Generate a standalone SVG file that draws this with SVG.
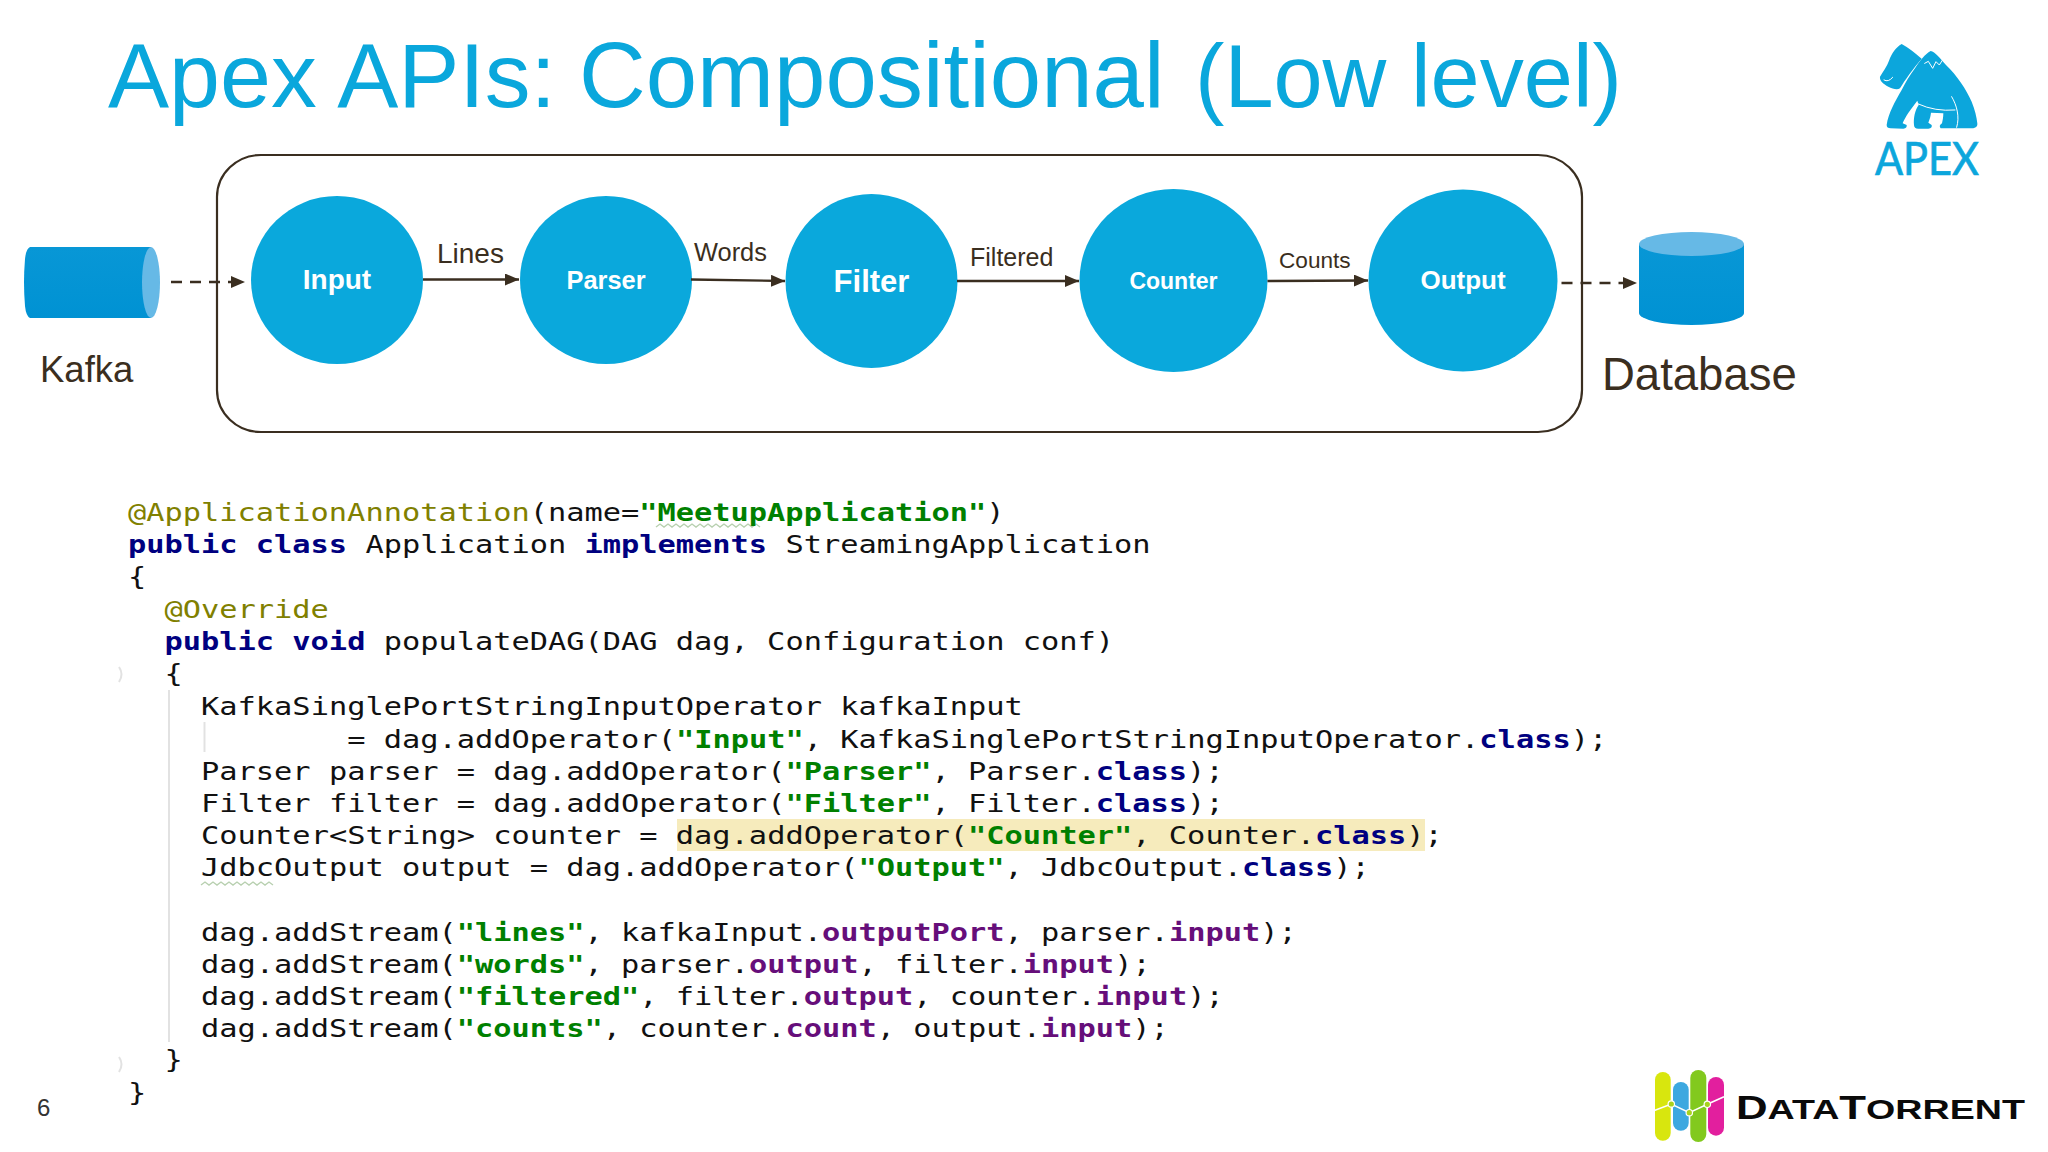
<svg xmlns="http://www.w3.org/2000/svg" width="2048" height="1152" viewBox="0 0 2048 1152">
<style>
.sans{font-family:"Liberation Sans",Arial,sans-serif}
.title{fill:#0aa7dc}
.node{fill:#0aa8dc}
.nl{font-family:"Liberation Sans",Arial,sans-serif;font-weight:700;fill:#fff;text-anchor:middle}
.el{font-family:"Liberation Sans",Arial,sans-serif;fill:#3a2e20}
.edge{stroke:#3a2e20;stroke-width:2.4;fill:none;marker-end:url(#ah)}
.dash{stroke-dasharray:11 8}
.code text{font-family:"DejaVu Sans Mono",monospace;font-size:24px;fill:#111;white-space:pre}
.k{font-weight:700;fill:#000080}
.s{font-weight:700;fill:#008000}
.a{fill:#808000}
.f{font-weight:700;fill:#660e7a}
.guide{stroke:#e2e2e2;stroke-width:2;fill:none}
.squig{stroke:#b8d0b0;stroke-width:1.4;fill:none}
.wh{stroke:#fff;fill:none;stroke-linecap:round;stroke-linejoin:round}
</style>
<defs>
<marker id="ah" markerUnits="userSpaceOnUse" markerWidth="14" markerHeight="12" refX="14" refY="6" orient="auto"><path d="M0 0L14 6L0 12Z" fill="#3a2e20"/></marker>
<linearGradient id="cyl" x1="0" y1="0" x2="0" y2="1"><stop offset="0" stop-color="#0897d6"/><stop offset="1" stop-color="#0092d3"/></linearGradient>
</defs>
<rect width="2048" height="1152" fill="#fff"/>
<text class="sans title" y="107" font-size="91.6"><tspan x="108">Apex APIs:</tspan> <tspan x="579" font-size="92.4">Compositional</tspan> <tspan x="1195" font-size="88.3">(Low level)</tspan></text>

<g id="apex-logo">
<g transform="translate(1860 30) scale(.3333)" fill="#0ca6dc">
<path d="M125 42C108 52 95 70 87 92C82 108 68 125 60 140C58 152 70 162 85 170C98 177 112 180 120 175C135 150 160 115 185 86C165 70 145 52 125 42Z"/>
<path d="M212 63C195 72 180 92 165 115C150 135 135 160 125 180C105 215 85 250 80 285Q80 295 92 295L130 296Q142 294 140 285L128 280C135 262 150 240 172 212L176 225C165 240 160 265 162 285Q162 296 175 296L205 296Q218 294 215 285L205 278C210 265 212 258 213 248L250 250C250 262 248 272 246 280Q235 288 242 295L340 295Q354 292 352 280C350 260 345 240 335 215C320 180 290 135 258 105C240 85 225 65 212 63Z"/>
<path class="wh" stroke-width="3" d="M72 150Q85 158 98 142"/>
<path class="wh" stroke-width="3" d="M194 100L205 94L218 115L228 95L238 105L249 88"/>
<path class="wh" stroke-width="3" d="M175 222Q225 245 285 240"/>
<path class="wh" stroke-width="3" d="M275 200C290 225 300 260 290 292"/>
</g>
<text x="1875" y="175" font-family="Lato,sans-serif" font-size="46" fill="#0ca6dc" stroke="#0ca6dc" stroke-width=".7" textLength="104" lengthAdjust="spacingAndGlyphs">APEX</text>
</g>

<rect id="container" x="217" y="155" width="1365" height="277" rx="44" ry="42" fill="none" stroke="#3a2e20" stroke-width="2.2"/>

<g id="kafka">
<path d="M30 247H151V318H30Q26 316 25 306Q23 282 25 259Q26 249 30 247Z" fill="url(#cyl)"/>
<ellipse cx="151" cy="282.5" rx="9" ry="35.5" fill="#66b9e6"/>
<text class="el" x="40" y="382" font-size="36.5">Kafka</text>
</g>

<g id="database">
<path d="M1639 244V313A52.5 12 0 0 0 1744 313V244Z" fill="url(#cyl)"/>
<ellipse cx="1691.5" cy="244" rx="52.5" ry="12" fill="#66b9e6"/>
<text class="el" x="1602" y="389.5" font-size="45.5">Database</text>
</g>

<g id="n-input"><ellipse class="node" cx="337" cy="280" rx="86" ry="84"/><text class="nl" x="337" y="289" font-size="28">Input</text></g>
<g id="n-parser"><ellipse class="node" cx="606" cy="280" rx="86" ry="84"/><text class="nl" x="606" y="289" font-size="25.4">Parser</text></g>
<g id="n-filter"><ellipse class="node" cx="871.5" cy="281" rx="86" ry="87"/><text class="nl" x="871.5" y="292" font-size="31">Filter</text></g>
<g id="n-counter"><ellipse class="node" cx="1173.5" cy="280.5" rx="94" ry="91.5"/><text class="nl" x="1173.5" y="288.5" font-size="23">Counter</text></g>
<g id="n-output"><ellipse class="node" cx="1463" cy="280.5" rx="94.5" ry="91"/><text class="nl" x="1463" y="288.5" font-size="26">Output</text></g>

<g id="connectors">
<path class="edge dash" d="M171 282H245"/>
<path class="edge" d="M423 279.5H519"/>
<path class="edge" d="M691 279.5L785 281"/>
<path class="edge" d="M957 281H1079"/>
<path class="edge" d="M1267.5 281L1368 280.5"/>
<path class="edge dash" d="M1561.5 283H1637"/>
<text class="el" x="437" y="263" font-size="28">Lines</text>
<text class="el" x="694" y="261" font-size="25.4">Words</text>
<text class="el" x="970" y="266" font-size="25">Filtered</text>
<text class="el" x="1279" y="268" font-size="22.6">Counts</text>
</g>

<g id="code">
<rect x="677" y="819" width="748" height="32" fill="#f6ebbc"/>
<path class="guide" d="M169 690V1042"/>
<path class="guide" d="M204.5 722V752"/>
<path class="guide" d="M119 667Q124 674 119 682M119 1057Q124 1064 119 1072"/>
<path class="squig" d="M656 527l4-3l4 3l4-3l4 3l4-3l4 3l4-3l4 3l4-3l4 3l4-3l4 3l4-3l4 3l4-3l4 3l4-3l4 3l4-3l4 3l4-3l4 3l4-3l4 3l4-3l4 3"/>
<path class="squig" d="M201 885l4-3l4 3l4-3l4 3l4-3l4 3l4-3l4 3l4-3l4 3l4-3l4 3l4-3l4 3l4-3l4 3l4-3l4 3"/>
<g class="code" transform="translate(128 0) scale(1.2643 1)">
<text x="0" y="521"><tspan class="a">@ApplicationAnnotation</tspan>(name=<tspan class="s">"MeetupApplication"</tspan>)</text>
<text x="0" y="553.5"><tspan class="k">public class</tspan> Application <tspan class="k">implements</tspan> StreamingApplication</text>
<text x="0" y="585.4">{</text>
<text x="28.9" y="617.6"><tspan class="a">@Override</tspan></text>
<text x="28.9" y="650"><tspan class="k">public void</tspan> populateDAG(DAG dag, Configuration conf)</text>
<text x="28.9" y="682">{</text>
<text x="57.8" y="715.2">KafkaSinglePortStringInputOperator kafkaInput</text>
<text x="173.4" y="747.6">= dag.addOperator(<tspan class="s">"Input"</tspan>, KafkaSinglePortStringInputOperator.<tspan class="k">class</tspan>);</text>
<text x="57.8" y="779.8">Parser parser = dag.addOperator(<tspan class="s">"Parser"</tspan>, Parser.<tspan class="k">class</tspan>);</text>
<text x="57.8" y="812">Filter filter = dag.addOperator(<tspan class="s">"Filter"</tspan>, Filter.<tspan class="k">class</tspan>);</text>
<text x="57.8" y="844.2">Counter&lt;String&gt; counter = dag.addOperator(<tspan class="s">"Counter"</tspan>, Counter.<tspan class="k">class</tspan>);</text>
<text x="57.8" y="876.4">JdbcOutput output = dag.addOperator(<tspan class="s">"Output"</tspan>, JdbcOutput.<tspan class="k">class</tspan>);</text>
<text x="57.8" y="940.8">dag.addStream(<tspan class="s">"lines"</tspan>, kafkaInput.<tspan class="f">outputPort</tspan>, parser.<tspan class="f">input</tspan>);</text>
<text x="57.8" y="973">dag.addStream(<tspan class="s">"words"</tspan>, parser.<tspan class="f">output</tspan>, filter.<tspan class="f">input</tspan>);</text>
<text x="57.8" y="1005.2">dag.addStream(<tspan class="s">"filtered"</tspan>, filter.<tspan class="f">output</tspan>, counter.<tspan class="f">input</tspan>);</text>
<text x="57.8" y="1037.4">dag.addStream(<tspan class="s">"counts"</tspan>, counter.<tspan class="f">count</tspan>, output.<tspan class="f">input</tspan>);</text>
<text x="28.9" y="1068.4">}</text>
<text x="0" y="1100.6">}</text>
</g>
</g>

<text class="sans" x="37" y="1116" font-size="24" fill="#333">6</text>

<g id="datatorrent-logo">
<rect x="1655" y="1072" width="15.7" height="68.7" rx="7.8" fill="#d8e60e"/>
<rect x="1673" y="1082" width="15.7" height="48.7" rx="7.8" fill="#3da8e0"/>
<rect x="1690.3" y="1070" width="16" height="72" rx="8" fill="#82c91e"/>
<rect x="1708" y="1077" width="16" height="58.7" rx="8" fill="#e21f9e"/>
<path d="M1653 1111L1671.3 1104L1689.3 1112.7L1707.3 1104.3L1724 1096.7" fill="none" stroke="#fff" stroke-width="1.6"/>
<g fill="#a8d21e" stroke="#fff" stroke-width="1.2"><circle cx="1671.3" cy="1104" r="3.2"/><circle cx="1689.3" cy="1112.7" r="3.2"/><circle cx="1707.3" cy="1104.3" r="3.2"/></g>
<text class="sans" x="1736" y="1119" font-weight="700" font-size="28.4" fill="#0a0a0a" textLength="289" lengthAdjust="spacingAndGlyphs"><tspan font-size="33">D</tspan>ATA<tspan font-size="33">T</tspan>ORRENT</text>
</g>
</svg>
